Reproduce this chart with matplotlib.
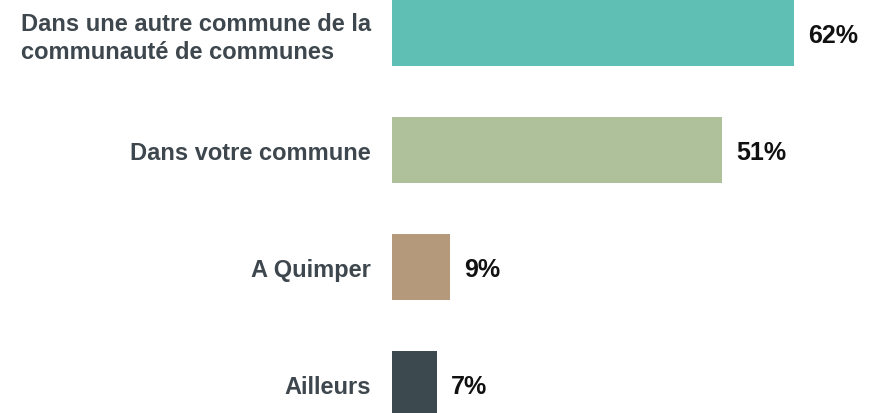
import matplotlib
matplotlib.use("Agg")
import matplotlib.pyplot as plt

categories = ["Dans une autre commune de la\ncommunauté de communes",
              "Dans votre commune", "A Quimper", "Ailleurs"]
values = [62, 51, 9, 7]
value_labels = ["62%", "51%", "9%", "7%"]
colors = ["#5fbfb5", "#afc19a", "#b49a7a", "#3c494e"]

W, H = 874, 414
fig = plt.figure(figsize=(W / 100, H / 100), dpi=100)
left = 392
ax = fig.add_axes([left / W, 0, 1 - left / W, 1])

pos = list(range(len(categories)))
ax.barh(pos, values, height=0.564, color=colors)
ax.set_xlim(0, (W - left) / 6.48)
ax.set_ylim((H - 34) / 117, -34 / 117)

ax.set_yticks(pos)
ax.set_yticklabels(categories, fontsize=17, fontweight="bold", color="#3d474d",
                   family=["Liberation Sans", "DejaVu Sans"])
for t in ax.get_yticklabels():
    t.set_multialignment("left")
    t.set_linespacing(1.25)
ax.tick_params(axis="y", length=0, pad=15)
ax.set_xticks([])
for s in ax.spines.values():
    s.set_visible(False)

for p, v, lab in zip(pos, values, value_labels):
    ax.annotate(lab, (v, p), xytext=(14, -2), textcoords="offset pixels",
                ha="left", va="center", fontsize=18, fontweight="bold",
                color="#111111", family=["Liberation Sans", "DejaVu Sans"])

fig.savefig("out.png", dpi=100)
